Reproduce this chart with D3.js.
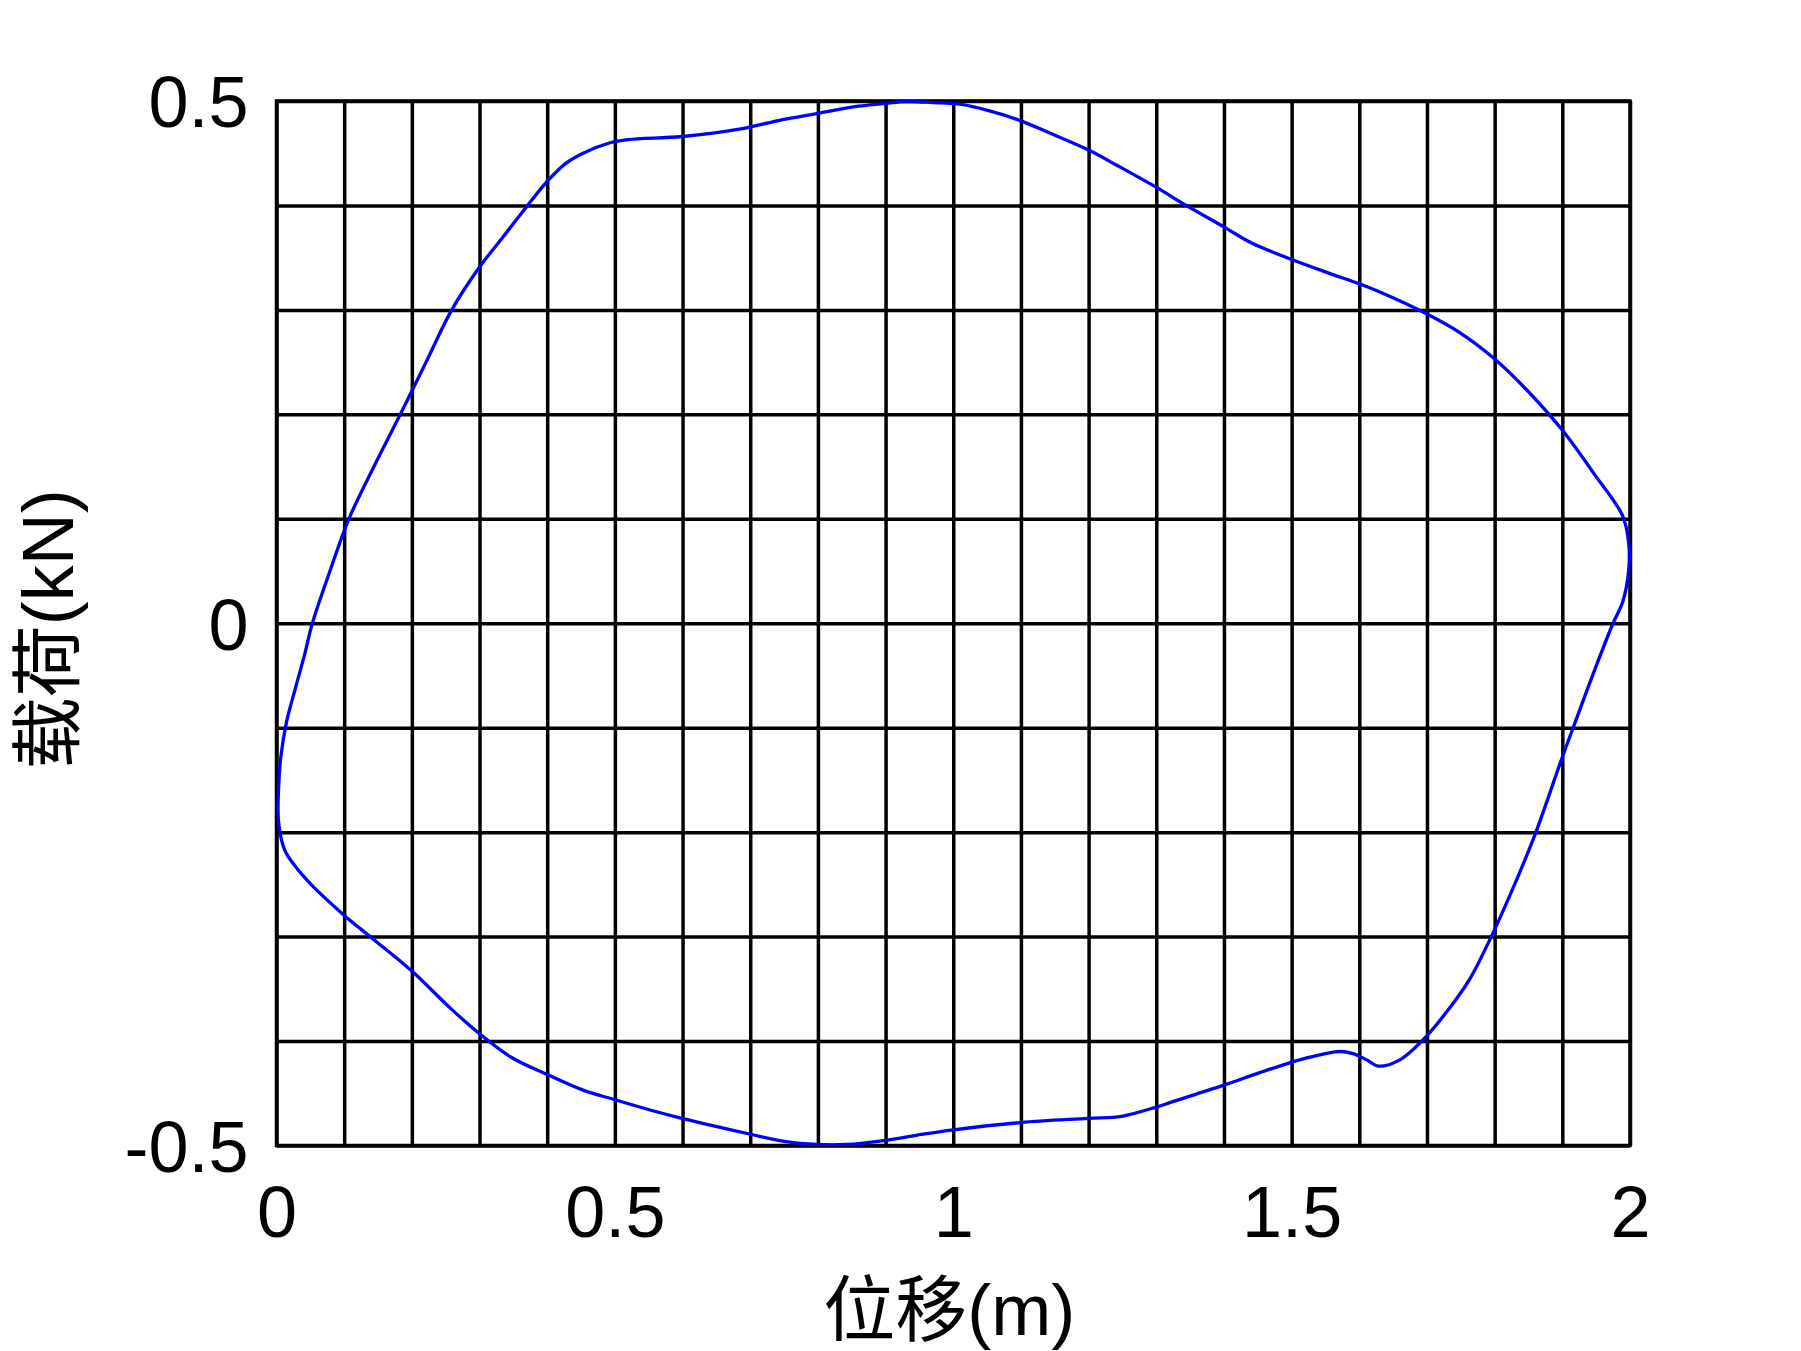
<!DOCTYPE html>
<html>
<head>
<meta charset="utf-8">
<script src="https://cdn.jsdelivr.net/npm/d3@7"></script>
<style>
  html, body { margin: 0; padding: 0; background: #fff; }
  svg { display: block; }
  text { font-family: "Liberation Sans", Arial, "Noto Sans CJK SC", sans-serif; fill: #000; }
</style>
</head>
<body>
<svg id="chart" width="1801" height="1351"></svg>
<script>
// ---- data ----
const xTickValues = [0, 0.5, 1, 1.5, 2];
const xTickLabels = ["0", "0.5", "1", "1.5", "2"];
const yTickValues = [-0.5, 0, 0.5];
const yTickLabels = ["-0.5", "0", "0.5"];
const xGridValues = [0,0.1,0.2,0.3,0.4,0.5,0.6,0.7,0.8,0.9,1,1.1,1.2,1.3,1.4,1.5,1.6,1.7,1.8,1.9,2];
const yGridValues = [-0.5,-0.4,-0.3,-0.2,-0.1,0,0.1,0.2,0.3,0.4,0.5];
const xTitle = "位移(m)";
const yTitle = "载荷(kN)";

// closed hysteresis loop: displacement (m) and load (kN)
const displacement = [
  0.003, 0.003, 0.0066, 0.015, 0.028, 0.0415, 0.053, 0.079, 0.107, 0.144, 0.183, 0.221, 0.259, 0.3, 0.335, 0.371, 0.4, 0.427, 0.453, 0.493, 0.519, 0.6, 0.684, 0.74, 0.799, 0.86, 0.9, 0.93, 0.97,
  1.012, 1.051, 1.1, 1.14, 1.2, 1.243, 1.301, 1.339, 1.401, 1.441, 1.501, 1.556, 1.6, 1.627, 1.7, 1.749, 1.8, 1.845, 1.901, 1.947, 1.989, 1.998, 1.998, 1.989, 1.975,
  1.947, 1.916, 1.899, 1.861, 1.838, 1.795, 1.762, 1.728, 1.694, 1.660, 1.628, 1.611, 1.591, 1.571, 1.55, 1.512, 1.454, 1.401, 1.358, 1.32, 1.301, 1.249, 1.2, 1.1, 1.0,
  0.947, 0.9, 0.842, 0.799, 0.75, 0.699, 0.651, 0.599, 0.552, 0.499, 0.453, 0.4, 0.348, 0.3, 0.256, 0.2, 0.144, 0.099, 0.051, 0.028, 0.012
];
const load = [
  -0.19, -0.159, -0.127, -0.094, -0.062, -0.030, 0.0, 0.05, 0.1, 0.15, 0.2, 0.25, 0.3, 0.341, 0.37, 0.4, 0.423, 0.44, 0.45, 0.46, 0.463, 0.466, 0.473, 0.481, 0.488, 0.495, 0.4977, 0.4995, 0.4985,
  0.4967, 0.491, 0.481, 0.47, 0.453, 0.438, 0.417, 0.402, 0.379, 0.364, 0.348, 0.335, 0.325, 0.318, 0.296, 0.278, 0.253, 0.225, 0.184, 0.143, 0.103, 0.077, 0.05, 0.02, 0.0,
  -0.046, -0.1, -0.13, -0.2, -0.237, -0.3, -0.342, -0.373, -0.399, -0.418, -0.424, -0.418, -0.412, -0.410, -0.412, -0.418, -0.43, -0.442, -0.451, -0.459, -0.463, -0.472, -0.474, -0.478, -0.485,
  -0.49, -0.495, -0.499, -0.499, -0.496, -0.489, -0.482, -0.474, -0.466, -0.456, -0.447, -0.432, -0.416, -0.393, -0.368, -0.333, -0.303, -0.279, -0.25, -0.233, -0.217
];

// ---- layout ----
const plotL = 276.5, plotR = 1630, plotT = 101, plotB = 1145.5;
const svg = d3.select("#chart");
const x = d3.scaleLinear().domain([0, 2]).range([plotL, plotR]);
const y = d3.scaleLinear().domain([-0.5, 0.5]).range([plotB, plotT]);

// grid
svg.append("g")
  .attr("transform", `translate(0,${plotB})`)
  .call(d3.axisBottom(x).tickValues(xGridValues).tickSize(-(plotB - plotT)).tickFormat(""))
  .call(g => g.select(".domain").remove())
  .call(g => g.selectAll("line").attr("stroke", "#000").attr("stroke-width", 3.5));
svg.append("g")
  .attr("transform", `translate(${plotL},0)`)
  .call(d3.axisLeft(y).tickValues(yGridValues).tickSize(-(plotR - plotL)).tickFormat(""))
  .call(g => g.select(".domain").remove())
  .call(g => g.selectAll("line").attr("stroke", "#000").attr("stroke-width", 3.5));

// frame
svg.append("rect")
  .attr("x", plotL).attr("y", plotT)
  .attr("width", plotR - plotL).attr("height", plotB - plotT)
  .attr("fill", "none").attr("stroke", "#000").attr("stroke-width", 3.5);

// tick labels
svg.append("g")
  .attr("transform", `translate(0,${plotB})`)
  .call(d3.axisBottom(x).tickValues(xTickValues).tickSize(0).tickPadding(0)
        .tickFormat((d, i) => xTickLabels[i]))
  .call(g => g.select(".domain").remove())
  .call(g => g.selectAll("text")
      .attr("font-size", 72).attr("y", 91.5).attr("dy", 0)
      .style("font-family", '"Liberation Sans", Arial, sans-serif'));
svg.append("g")
  .attr("transform", `translate(${plotL},0)`)
  .call(d3.axisLeft(y).tickValues(yTickValues).tickSize(0).tickPadding(0)
        .tickFormat((d, i) => yTickLabels[i]))
  .call(g => g.select(".domain").remove())
  .call(g => g.selectAll("text")
      .attr("font-size", 72).attr("x", -28).attr("dy", "0.36em")
      .style("font-family", '"Liberation Sans", Arial, sans-serif'));

// axis titles
svg.append("text")
  .attr("x", (plotL + plotR) / 2 - 4).attr("y", 1335)
  .attr("text-anchor", "middle").attr("font-size", 72)
  .text(xTitle);
svg.append("text")
  .attr("transform", `translate(73,${(plotT + plotB) / 2 + 6}) rotate(-90)`)
  .attr("text-anchor", "middle").attr("font-size", 72)
  .text(yTitle);

// curve
const pts = displacement.map((d, i) => [d, load[i]]);
const line = d3.line()
  .x(d => x(d[0])).y(d => y(d[1]))
  .curve(d3.curveCatmullRomClosed.alpha(0.5));
svg.append("path")
  .datum(pts)
  .attr("d", line)
  .attr("fill", "none")
  .attr("stroke", "#0000ff")
  .attr("stroke-width", 3.3);
</script>
</body>
</html>
